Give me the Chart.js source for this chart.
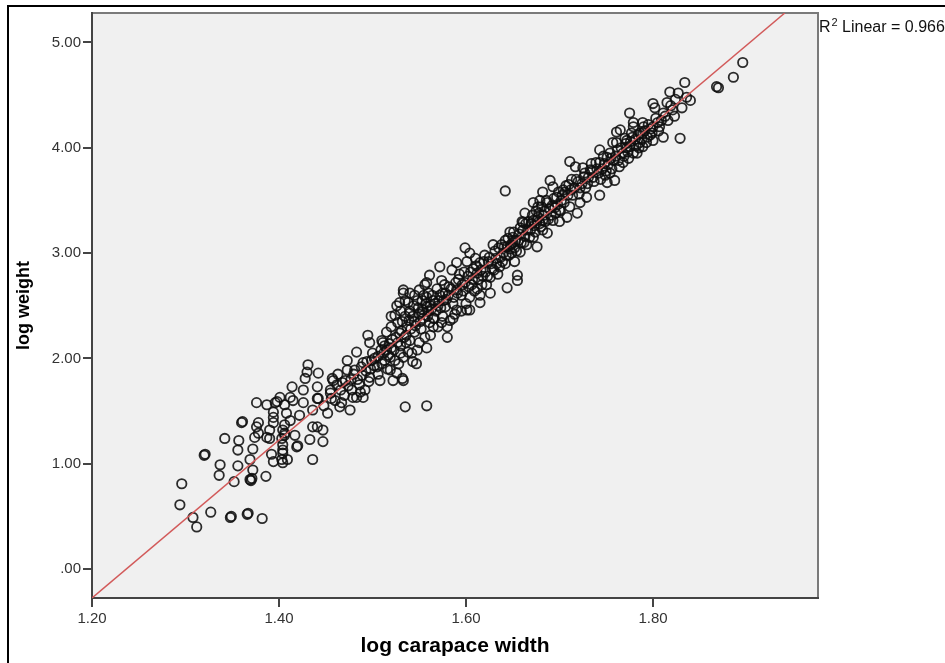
<!DOCTYPE html>
<html>
<head>
<meta charset="utf-8">
<script src="https://cdn.jsdelivr.net/npm/chart.js@4.4.0/dist/chart.umd.min.js"></script>
<style>
  html, body { margin: 0; padding: 0; background: #fff; overflow: hidden; }
  #frame { position: absolute; left: 7px; top: 5px; width: 1000px; height: 1000px;
           border-left: 2px solid #000; border-top: 2px solid #000; }
  #wrap { position: absolute; left: 0; top: 0; width: 945px; height: 663px; }
</style>
</head>
<body>
<div id="frame"></div>
<div id="wrap"><canvas id="myChart" width="945" height="663"></canvas></div>
<script>
// tick values and labels
const xTicks = [1.20, 1.40, 1.60, 1.80];
const xTickLabels = ['1.20', '1.40', '1.60', '1.80'];
const yTicks = [0, 1, 2, 3, 4, 5];
const yTickLabels = ['.00', '1.00', '2.00', '3.00', '4.00', '5.00'];

// fitted line, read where it enters and leaves the plot
const fitX = [1.20, 1.941];
const fitY = [-0.275, 5.28];
const r2Text = 'Linear = 0.966';

const lowerTail = [
  [1.294,0.61],[1.296,0.81],[1.308,0.49],[1.312,0.40],[1.320,1.08],[1.321,1.09],[1.327,0.54],[1.336,0.89],
  [1.337,0.99],[1.342,1.24],[1.348,0.49],[1.349,0.50],[1.352,0.83],[1.356,0.98],[1.356,1.13],[1.357,1.22],
  [1.360,1.39],[1.361,1.40],[1.366,0.52],[1.367,0.53],[1.369,0.85],[1.370,0.84],[1.371,0.86],[1.369,1.04],
  [1.372,1.14],[1.372,0.94],[1.374,1.25],[1.376,1.35],[1.378,1.39],[1.378,1.29],[1.376,1.58],[1.382,0.48],
  [1.386,0.88],[1.387,1.56],[1.387,1.25],[1.390,1.24],[1.390,1.32],[1.392,1.09],[1.394,1.02],[1.394,1.39],
  [1.394,1.44],[1.394,1.49],[1.396,1.58],[1.398,1.59],[1.401,1.63],[1.403,1.04],[1.403,1.24],[1.404,1.01],
  [1.404,1.10],[1.404,1.13],[1.404,1.18],[1.404,1.32],[1.406,1.27],[1.406,1.29],[1.406,1.37],[1.406,1.56],
  [1.408,1.48],[1.409,1.04],[1.412,1.41],[1.412,1.63],[1.414,1.73],[1.415,1.60],[1.417,1.27],[1.419,1.16],
  [1.420,1.17],[1.422,1.46],[1.426,1.58],[1.426,1.70],[1.428,1.81],[1.430,1.87],[1.431,1.94],[1.433,1.23],
  [1.436,1.04],[1.436,1.35],[1.436,1.51],[1.441,1.35],[1.441,1.62],[1.441,1.73],[1.442,1.62],[1.442,1.86],
  [1.447,1.21],[1.447,1.32],[1.448,1.55],[1.452,1.48]
];
const midBand = [
  [1.455,1.67],[1.455,1.70],[1.456,1.62],[1.457,1.81],[1.458,1.79],[1.460,1.60],[1.462,1.75],[1.463,1.85],
  [1.465,1.54],[1.466,1.70],[1.467,1.58],[1.468,1.77],[1.470,1.65],[1.471,1.79],[1.473,1.89],[1.473,1.98],
  [1.474,1.74],[1.476,1.51],[1.477,1.80],[1.478,1.70],[1.479,1.63],[1.480,1.85],[1.481,1.89],[1.483,1.63],
  [1.483,2.06],[1.484,1.80],[1.486,1.75],[1.487,1.68],[1.488,1.92],[1.489,1.84],[1.490,1.63],[1.490,1.96],
  [1.492,1.70],[1.493,1.88],[1.494,1.97],[1.495,2.22],[1.496,1.78],[1.497,1.82],[1.497,2.15],[1.498,1.90],
  [1.499,1.98],[1.500,2.05],[1.502,2.00],
  [1.505,1.92],[1.506,1.85],[1.508,1.79],[1.510,1.95],[1.510,2.17],[1.511,2.15],[1.512,2.05],[1.513,1.98],
  [1.515,2.08],[1.515,2.25],[1.516,1.90],[1.518,2.14],[1.519,1.89],[1.519,2.01],[1.520,2.10],[1.520,2.30],
  [1.520,2.40],[1.522,1.79],[1.524,1.98],[1.524,2.41],[1.525,2.20],[1.526,1.86],[1.526,2.50],[1.527,2.34],
  [1.528,1.95],[1.529,2.24],[1.529,2.53],[1.530,2.05],[1.530,2.12],[1.530,2.45],[1.532,1.81],[1.533,1.79],
  [1.533,2.01],[1.533,2.62],[1.533,2.65],[1.534,2.20],[1.535,1.54],[1.535,2.40],[1.535,2.55],[1.536,2.15],
  [1.537,2.30],[1.538,2.06],[1.538,2.53],[1.540,2.17],[1.540,2.43],[1.540,2.45],[1.540,2.62],[1.542,2.05],
  [1.543,1.97],[1.544,2.50],[1.545,2.25],[1.545,2.35],[1.545,2.60],[1.547,1.95],[1.548,2.08],[1.548,2.55],
  [1.550,2.15],[1.550,2.42],[1.550,2.65],[1.552,2.28],[1.553,2.55],[1.554,2.38],[1.554,2.46],[1.555,2.60],
  [1.556,2.20],[1.556,2.70],[1.558,1.55],[1.558,2.10],[1.558,2.49],[1.558,2.58],[1.558,2.72],[1.560,2.45],
  [1.560,2.62],[1.561,2.34],[1.561,2.79],[1.562,2.22],[1.562,2.50],[1.565,2.30],[1.565,2.38],[1.565,2.55],
  [1.566,2.38],[1.568,2.45],[1.570,2.30],[1.570,2.50],[1.572,2.60],[1.572,2.87],[1.574,2.34],[1.574,2.74],
  [1.575,2.40],[1.575,2.62],[1.576,2.55],[1.578,2.49],[1.578,2.62],[1.580,2.20],[1.580,2.30],[1.582,2.68],
  [1.583,2.36],[1.585,2.84],[1.586,2.38],[1.586,2.52],[1.588,2.42],[1.590,2.46],[1.590,2.65],[1.590,2.91],
  [1.592,2.75],[1.595,2.45],[1.595,2.60],[1.598,2.82],[1.599,2.72],[1.599,3.05]
];
const upperBand = [
  [1.600,2.52],[1.601,2.46],[1.601,2.92],[1.604,2.46],[1.604,2.58],[1.604,3.00],[1.606,2.70],[1.608,2.85],
  [1.610,2.95],[1.612,2.66],[1.612,2.81],[1.615,2.53],[1.615,2.60],[1.615,2.91],[1.618,2.78],[1.620,2.98],
  [1.622,2.70],[1.624,2.92],[1.626,2.62],[1.626,2.77],[1.628,2.85],[1.629,3.08],[1.632,2.95],[1.634,2.80],
  [1.636,2.87],[1.638,3.08],[1.640,3.00],[1.642,2.90],[1.642,3.12],[1.642,3.59],[1.644,2.67],[1.644,3.06],
  [1.646,2.98],[1.647,3.20],[1.648,3.08],[1.650,3.10],[1.650,3.15],[1.652,2.92],[1.652,3.05],[1.655,2.74],
  [1.655,2.79],[1.656,3.12],[1.658,3.01],[1.658,3.24],[1.660,3.30],[1.661,3.29],[1.662,3.10],[1.663,3.38],
  [1.665,3.08],[1.666,3.22],[1.668,3.15],[1.670,3.28],[1.672,3.15],[1.672,3.31],[1.672,3.48],[1.674,3.20],
  [1.676,3.06],[1.676,3.31],[1.677,3.44],[1.678,3.38],[1.679,3.50],[1.680,3.25],[1.682,3.22],[1.682,3.31],
  [1.682,3.58],[1.684,3.40],[1.687,3.19],[1.687,3.48],[1.688,3.32],[1.690,3.69],[1.692,3.45],[1.693,3.31],
  [1.693,3.63],[1.695,3.43],[1.696,3.38],[1.697,3.53],[1.700,3.30],[1.700,3.41],[1.702,3.50],[1.704,3.60],
  [1.706,3.58],[1.708,3.34],[1.710,3.65],[1.711,3.44],[1.711,3.87],[1.714,3.55],[1.717,3.82],[1.718,3.70],
  [1.719,3.38],[1.722,3.48],[1.722,3.62],[1.725,3.81],[1.726,3.72],[1.729,3.53],[1.730,3.66],[1.733,3.79],
  [1.734,3.85],[1.736,3.72],[1.740,3.80],[1.743,3.55],[1.743,3.86],[1.743,3.98],[1.744,3.70],[1.748,3.85],
  [1.750,3.78],[1.751,3.67],[1.751,3.91],[1.754,3.76],[1.754,3.95],[1.757,4.05],[1.758,3.88],[1.759,3.69]
];
// the crowded core of the band, close to the fitted line
const denseCore = [
  [1.502,1.93],[1.506,2.02],[1.509,2.08],[1.513,2.12],[1.517,2.03],[1.521,2.18],[1.523,2.08],[1.527,2.15],
  [1.531,2.26],[1.532,2.35],[1.536,2.22],[1.539,2.36],[1.541,2.28],[1.543,2.40],[1.546,2.31],[1.549,2.48],
  [1.551,2.35],[1.553,2.44],[1.557,2.52],[1.559,2.40],[1.563,2.47],[1.564,2.60],[1.567,2.52],[1.569,2.66],
  [1.571,2.55],[1.573,2.48],[1.577,2.70],[1.579,2.56],[1.581,2.60],[1.584,2.66],[1.587,2.58],[1.589,2.72],
  [1.591,2.62],[1.593,2.80],[1.596,2.70],[1.597,2.64],[1.602,2.78],[1.603,2.68],[1.605,2.82],[1.607,2.75],
  [1.609,2.64],[1.611,2.88],[1.613,2.75],[1.616,2.84],[1.617,2.70],[1.619,2.92],[1.621,2.82],[1.623,2.78],
  [1.625,2.96],[1.627,2.90],[1.630,2.84],[1.631,3.02],[1.633,2.90],[1.635,3.05],[1.637,2.96],[1.639,2.92],
  [1.641,3.06],[1.643,2.98],[1.645,3.14],[1.647,3.04],[1.649,3.00],[1.651,3.20],[1.653,3.12],[1.654,3.02],
  [1.657,3.18],[1.659,3.10],[1.661,3.22],[1.663,3.16],[1.664,3.28],[1.667,3.30],[1.669,3.22],[1.671,3.36],
  [1.673,3.26],[1.675,3.40],[1.677,3.34],[1.679,3.28],[1.681,3.44],[1.683,3.36],[1.685,3.30],[1.686,3.50],
  [1.689,3.42],[1.691,3.36],[1.694,3.52],[1.698,3.46],[1.699,3.58],[1.701,3.40],[1.703,3.55],[1.705,3.48],
  [1.707,3.64],[1.709,3.55],[1.712,3.60],[1.713,3.70],[1.716,3.62],[1.720,3.68],[1.721,3.56],[1.724,3.66],
  [1.727,3.76],[1.728,3.62],[1.731,3.72],[1.735,3.78],[1.737,3.68],[1.739,3.86],[1.742,3.76],[1.746,3.80],
  [1.747,3.92],[1.749,3.74],[1.752,3.84],[1.755,3.90],[1.756,3.80],[1.760,3.92],[1.763,3.88],[1.766,4.00],
  [1.769,3.92],[1.771,4.04],[1.773,3.96],[1.776,4.06],[1.777,4.14],[1.781,4.08],[1.784,4.12],[1.785,4.00],
  [1.788,4.08],[1.791,4.16],[1.793,4.05],[1.795,4.22],[1.799,4.14],[1.803,4.28],[1.806,4.16],[1.809,4.26],
  [1.813,4.30],[1.819,4.40],[1.823,4.30],[1.824,4.46],[1.836,4.48]
];
const topTail = [
  [1.761,4.05],[1.761,4.15],[1.762,3.98],[1.764,3.82],[1.765,4.17],[1.768,3.86],[1.768,3.95],[1.770,4.09],
  [1.772,4.00],[1.772,4.07],[1.774,3.90],[1.775,4.01],[1.775,4.33],[1.778,4.10],[1.779,3.95],[1.779,4.20],
  [1.779,4.24],[1.782,4.02],[1.783,3.95],[1.786,4.05],[1.786,4.14],[1.789,4.01],[1.789,4.14],[1.789,4.24],
  [1.790,4.20],[1.794,4.10],[1.797,4.12],[1.798,4.18],[1.800,4.07],[1.800,4.20],[1.800,4.42],[1.802,4.38],
  [1.805,4.24],[1.807,4.20],[1.811,4.10],[1.811,4.33],[1.815,4.43],[1.816,4.26],[1.818,4.53],[1.821,4.36],
  [1.827,4.52],[1.829,4.09],[1.831,4.38],[1.834,4.62],[1.840,4.45],[1.868,4.58],[1.870,4.57],[1.886,4.67],
  [1.896,4.81]
];

const FONT = '"Liberation Sans", Arial, sans-serif';

// all groups into one scatter series
const points = [...lowerTail, ...midBand, ...upperBand, ...denseCore, ...topTail].map(p => ({x: p[0], y: p[1]}));
const fitLine = fitX.map((x, i) => ({x: x, y: fitY[i]}));

// grey plot box + R2 text
const plotBox = {
  id: 'plotBox',
  beforeDraw(chart) {
    const {ctx, chartArea: a} = chart;
    ctx.save();
    ctx.fillStyle = '#f0f0f0';
    ctx.fillRect(a.left, a.top, a.width, a.height);
    ctx.strokeStyle = '#7a7a7a';
    ctx.lineWidth = 2;
    ctx.strokeRect(a.left, a.top, a.width, a.height);
    ctx.restore();
  },
  afterDraw(chart) {
    const ctx = chart.ctx;
    const x0 = chart.chartArea.right + 1;
    const base = 32;
    ctx.save();
    ctx.fillStyle = '#111';
    ctx.textBaseline = 'alphabetic';
    ctx.font = '16px ' + FONT;
    ctx.fillText('R', x0, base);
    let x = x0 + ctx.measureText('R').width + 1;
    ctx.font = '11px ' + FONT;
    ctx.fillText('2', x, base - 6);
    x += ctx.measureText('2').width;
    ctx.font = '16px ' + FONT;
    ctx.fillText(' ' + r2Text, x, base);
    ctx.restore();
  }
};

const ctx = document.getElementById('myChart').getContext('2d');
const chart = new Chart(ctx, {
  type: 'scatter',
  data: {
    datasets: [{
      type: 'line',
      label: 'fit',
      data: fitLine,
      borderColor: '#d25a5a',
      borderWidth: 1.5,
      pointRadius: 0,
      fill: false,
      showLine: true
    }, {
      label: 'log weight',
      data: points,
      pointStyle: 'circle',
      pointRadius: 4.7,
      pointBorderWidth: 1.8,
      borderColor: 'rgba(15,15,15,0.88)',
      backgroundColor: 'rgba(0,0,0,0)',
      pointHoverRadius: 4.7
    }]
  },
  options: {
    responsive: false,
    animation: false,
    devicePixelRatio: 1,
    layout: { padding: { left: 9, top: 13, right: 127, bottom: 0 } },
    plugins: { legend: { display: false }, tooltip: { enabled: false } },
    scales: {
      x: {
        type: 'linear',
        min: 1.2,
        max: 1.9765,
        afterBuildTicks: s => { s.ticks = xTicks.map(v => ({value: v})); },
        afterFit: s => { s.height = 65; },
        ticks: {
          callback: (v, i) => xTickLabels[i],
          font: { family: FONT, size: 15 },
          color: '#333',
          padding: 3,
          maxRotation: 0,
          autoSkip: false
        },
        grid: { drawOnChartArea: false, drawTicks: true, tickLength: 9, color: '#444', lineWidth: 2 },
        border: { display: true, color: '#444', width: 2 },
        title: {
          display: true,
          text: 'log carapace width',
          font: { family: FONT, size: 21, weight: 'bold' },
          color: '#000',
          padding: { top: 4, bottom: 4 }
        }
      },
      y: {
        type: 'linear',
        min: -0.275,
        max: 5.28,
        afterBuildTicks: s => { s.ticks = yTicks.map(v => ({value: v})); },
        afterFit: s => { s.width = 83; },
        ticks: {
          callback: (v, i) => yTickLabels[i],
          font: { family: FONT, size: 15 },
          color: '#333',
          padding: 2,
          autoSkip: false
        },
        grid: { drawOnChartArea: false, drawTicks: true, tickLength: 9, color: '#444', lineWidth: 2 },
        border: { display: true, color: '#444', width: 2 },
        title: {
          display: true,
          text: 'log weight',
          font: { family: FONT, size: 18, weight: 'bold' },
          color: '#000',
          padding: { top: 4, bottom: 4 }
        }
      }
    }
  },
  plugins: [plotBox]
});
</script>
</body>
</html>
